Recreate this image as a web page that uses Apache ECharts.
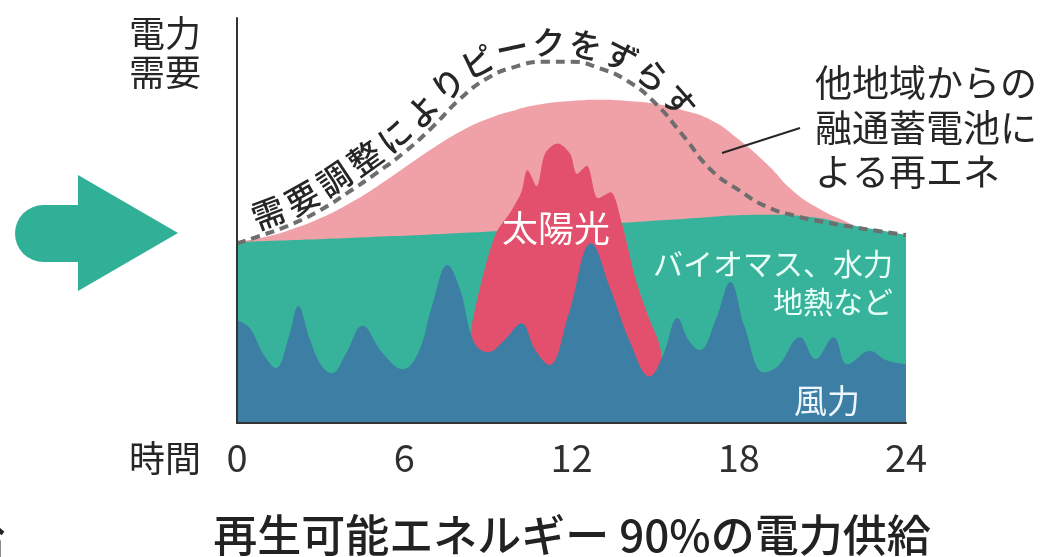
<!DOCTYPE html>
<html>
<head>
<meta charset="utf-8">
<script src="https://cdn.jsdelivr.net/npm/echarts@6.0.0/dist/echarts.min.js"></script>
<style>
  html, body { margin: 0; padding: 0; background: #ffffff; }
  #chart { width: 1051px; height: 557px; }
</style>
</head>
<body>
<div id="chart"></div>
<script>
// Hours of the day shown on the time axis
const hourTicks = [0, 6, 12, 18, 24];

// Supply levels over the day, as [hour, level] pairs (level = top of each band)
const windLevel = [
  [0, 25.4], [0.45, 23.5], [0.95, 17], [1.4, 13.6], [1.85, 21], [2.2, 28.9], [2.6, 21],
  [3.0, 14.5], [3.4, 12.3], [3.9, 17], [4.5, 24], [5.2, 17.5], [5.95, 13.3], [6.5, 17.3],
  [7.0, 29], [7.55, 39], [8.0, 33], [8.5, 20], [9.0, 17.5], [9.6, 20.5], [10.2, 24.6],
  [10.7, 18], [11.2, 14.3], [11.9, 27], [12.7, 44.4], [13.4, 33], [14.1, 20], [14.8, 11.5],
  [15.3, 17], [15.8, 25.9], [16.2, 20.5], [16.6, 18], [17.2, 26], [17.7, 34.8], [18.2, 24],
  [18.9, 12.5], [19.4, 14], [20.2, 21.2], [20.75, 15.8], [21.4, 21.2], [21.9, 14.5],
  [22.7, 17.8], [23.3, 15.5], [24, 14.5]
];
const baseLevel = [ // biomass, hydro, geothermal
  [0, 44.7], [4, 45.7], [8, 46.9], [12, 48.6], [16, 50.4], [19, 51.4], [20.5, 50.9],
  [22, 48.9], [23, 47.7], [24, 46.4]
];
const importLevel = [ // interconnection with other regions and storage batteries
  [0, 44.7], [1, 45.9], [2, 47.9], [3, 50.6], [4, 54.1], [5, 58.3], [6, 63], [7, 67.7],
  [8, 71.9], [9, 75.1], [10, 77.3], [11, 78.8], [12, 79.5], [13, 79.8], [14, 79.5],
  [15, 78.8], [16, 77.2], [17, 74.8], [18, 70], [19, 64], [20, 57], [21, 52.5],
  [21.7, 50.2], [22.3, 48.4], [23, 47.5], [24, 46.2]
];
const solarLevel = [
  [8.25, 14], [8.42, 24], [8.85, 37], [9.3, 47], [9.8, 52], [10.2, 57], [10.42, 62.5],
  [10.75, 58.5], [11.05, 66.5], [11.5, 69], [11.95, 66.5], [12.2, 61.5], [12.55, 63.5],
  [12.95, 55.5], [13.4, 57], [13.8, 49.5], [14.3, 35.5], [14.8, 25.5], [15.15, 19.5], [15.4, 9]
];
// Demand after peak shifting
const shiftedDemand = [
  [0, 44.4], [1, 46.6], [2, 49.2], [3, 52.6], [4, 57], [5, 61.7], [6, 66.8], [7, 73],
  [8, 80], [9, 85.2], [10, 88], [11, 89.2], [12, 89.2], [13, 87.6], [14, 84.5], [15, 79],
  [16, 71], [17, 62.5], [18, 57.5], [19, 53.4], [20, 51.2], [21, 49.7], [22, 48.5],
  [23, 47.4], [24, 46.4]
];

const CAPTION = '需要調整によりピークをずらす';
const FONT = '"Noto Sans CJK JP", "Noto Sans", sans-serif';
const INK = '#262626';
const COLORS = {
  wind: '#3d7fa4',
  base: '#37b39b',
  imports: '#f0a1a7',
  solar: '#e3506d',
  demand: '#6e6e6e',
  arrow: '#2fb097'
};

const chart = echarts.init(document.getElementById('chart'), null, { renderer: 'canvas' });

function band(name, data, color, z, smooth) {
  return {
    name, type: 'line', data, smooth, symbol: 'none', silent: true, z,
    lineStyle: { width: 0 },
    areaStyle: { color, opacity: 1 }
  };
}

function text(str, x, y, size, color, align, weight) {
  return {
    type: 'text', x, y, silent: true, z: 50,
    style: {
      text: str, fill: color, font: `${weight || 400} ${size}px ${FONT}`,
      textAlign: align || 'center', textVerticalAlign: 'middle'
    }
  };
}

const staticGraphics = [
  // arrow on the left
  { type: 'rect', shape: { x: 15, y: 205, width: 80, height: 57, r: [28.5, 0, 0, 28.5] },
    style: { fill: COLORS.arrow }, silent: true },
  { type: 'polygon', shape: { points: [[78, 175], [178, 233], [78, 291]] },
    style: { fill: COLORS.arrow }, silent: true },
  // axis captions
  text('電力', 165, 33, 36, INK),
  text('需要', 165, 72, 36, INK),
  text('時間', 165, 458, 36, INK),
  // band labels
  text('太陽光', 556, 228, 36, '#ffffff'),
  text('バイオマス、水力', 893, 264, 30, '#e9fff8', 'right'),
  text('地熱など', 893, 302, 30, '#e9fff8', 'right'),
  text('風力', 827, 400, 33, '#eef6ff'),
  text('他地域からの', 815, 83, 37, INK, 'left'),
  text('融通蓄電池に', 815, 128, 37, INK, 'left'),
  text('よる再エネ', 815, 172, 37, INK, 'left'),
  { type: 'line', shape: { x1: 722, y1: 153, x2: 800, y2: 128 },
    style: { stroke: INK, lineWidth: 2 }, silent: true, z: 50 },
  // title
  text('再生可能エネルギー 90%の電力供給', 572, 535, 44, '#222222', 'center', 500),
  text('給', 5, 538, 44, '#222222', 'right', 500)
];

chart.setOption({
  animation: false,
  backgroundColor: '#ffffff',
  grid: { left: 237, right: 145, top: 18, bottom: 134, outerBoundsMode: 'none', containLabel: false },
  xAxis: {
    type: 'value', min: hourTicks[0], max: hourTicks[hourTicks.length - 1], interval: 6, z: 10,
    axisLine: { show: true, lineStyle: { color: '#333333', width: 2 } },
    axisTick: { show: false }, splitLine: { show: false },
    axisLabel: {
      show: true, fontSize: 38, color: '#2f2f2f', margin: 16, fontFamily: FONT,
      showMinLabel: true, showMaxLabel: true,
      formatter: v => (hourTicks.includes(v) ? String(v) : '')
    }
  },
  yAxis: {
    type: 'value', min: 0, max: 100, z: 10,
    axisLine: { show: true, onZero: false, lineStyle: { color: '#333333', width: 2 } },
    axisTick: { show: false }, splitLine: { show: false }, axisLabel: { show: false }
  },
  series: [
    band('他地域からの融通蓄電池', importLevel, COLORS.imports, 2, 0.5),
    band('バイオマス、水力、地熱', baseLevel, COLORS.base, 3, 0.5),
    band('太陽光', solarLevel, COLORS.solar, 4, 0.3),
    band('風力', windLevel, COLORS.wind, 5, 0.4),
    {
      name: '需要', type: 'line', data: shiftedDemand, smooth: 0.5, symbol: 'none', silent: true, z: 6,
      lineStyle: { color: COLORS.demand, width: 4, type: [9, 6] }
    }
  ],
  graphic: staticGraphics
});

// Caption laid out along the shifted-demand curve
function curvedCaption() {
  const pts = shiftedDemand.map(p => chart.convertToPixel({ gridIndex: 0 }, p));
  const dense = [];
  for (let i = 0; i < pts.length - 1; i++) {
    const p0 = pts[Math.max(i - 1, 0)], p1 = pts[i], p2 = pts[i + 1], p3 = pts[Math.min(i + 2, pts.length - 1)];
    for (let k = 0; k < 20; k++) {
      const t = k / 20, t2 = t * t, t3 = t2 * t;
      const f = (a, b, c, d) => 0.5 * (2 * b + (-a + c) * t + (2 * a - 5 * b + 4 * c - d) * t2 + (-a + 3 * b - 3 * c + d) * t3);
      dense.push([f(p0[0], p1[0], p2[0], p3[0]), f(p0[1], p1[1], p2[1], p3[1])]);
    }
  }
  dense.push(pts[pts.length - 1]);

  const OFFSET = 19;
  const path = dense.map((p, i) => {
    const a = dense[Math.max(i - 1, 0)], b = dense[Math.min(i + 1, dense.length - 1)];
    const dx = b[0] - a[0], dy = b[1] - a[1], L = Math.hypot(dx, dy) || 1;
    return [p[0] + OFFSET * dy / L, p[1] - OFFSET * dx / L];
  });
  const cum = [0];
  for (let i = 1; i < path.length; i++) {
    cum.push(cum[i - 1] + Math.hypot(path[i][0] - path[i - 1][0], path[i][1] - path[i - 1][1]));
  }
  const sAtX = x => {
    for (let i = 1; i < path.length; i++) if (path[i][0] >= x) return cum[i];
    return cum[cum.length - 1];
  };
  const pointAt = s => {
    let i = 1;
    while (i < cum.length - 1 && cum[i] < s) i++;
    const r = (s - cum[i - 1]) / ((cum[i] - cum[i - 1]) || 1);
    const a = path[i - 1], b = path[i];
    // glyphs lean with the curve slightly ahead of their position
    const j0 = Math.max(i - 2, 0), j1 = Math.min(i + 12, path.length - 1);
    const ang = Math.atan2(path[j1][1] - path[j0][1], path[j1][0] - path[j0][0]);
    return { x: a[0] + (b[0] - a[0]) * r, y: a[1] + (b[1] - a[1]) * r, ang };
  };
  const s0 = sAtX(268), s1 = sAtX(679);
  const chars = Array.from(CAPTION);
  const step = (s1 - s0) / (chars.length - 1);
  return chars.map((ch, i) => {
    const p = pointAt(s0 + i * step);
    return {
      type: 'text', x: p.x, y: p.y, rotation: -p.ang, silent: true, z: 50,
      style: { text: ch, fill: INK, font: `500 33px ${FONT}`, textAlign: 'center', textVerticalAlign: 'middle' }
    };
  });
}

chart.setOption({ graphic: staticGraphics.concat(curvedCaption()) }, { replaceMerge: ['graphic'] });
</script>
</body>
</html>
